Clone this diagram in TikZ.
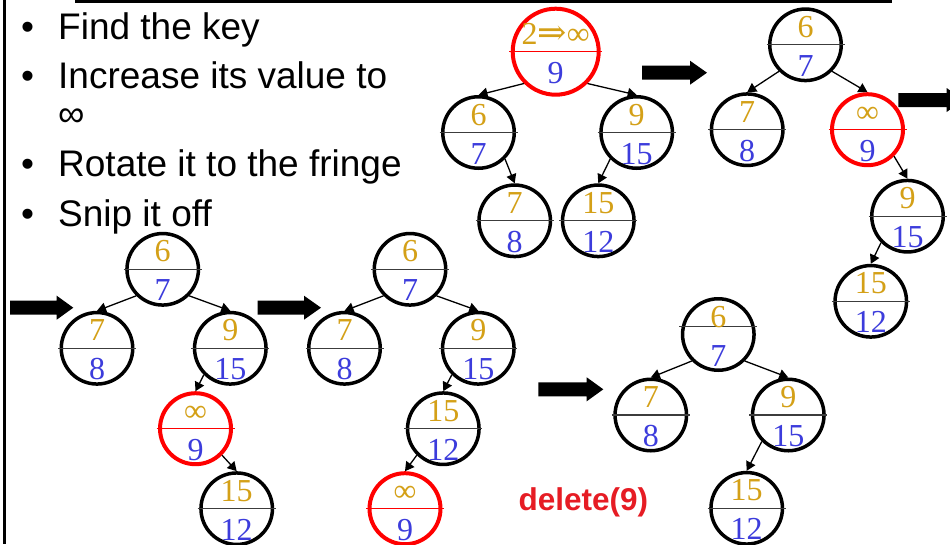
\documentclass[tikz,border=0pt]{standalone}
\usepackage{fontspec}
\setmainfont{Liberation Serif}
\newfontfamily\arialfont{Liberation Sans}
\newfontfamily\arrowfont{DejaVu Serif}
\usetikzlibrary{arrows.meta}

\definecolor{keygold}{RGB}{212,160,23}
\definecolor{prioblue}{RGB}{60,60,220}
\definecolor{hotred}{RGB}{255,0,0}
\definecolor{labelred}{RGB}{230,28,36}
\definecolor{rulegray}{RGB}{60,60,60}

\tikzset{
  ring/.style={circle, draw=black, line width=3.5pt, minimum size=71.5pt, inner sep=0pt},
  hotring/.style={circle, draw=hotred, line width=4pt, minimum size=71pt, inner sep=0pt},
  bigring/.style={hotring, minimum size=86pt},
  ring rule/.style={draw=rulegray, line width=1.2pt},
  hotring rule/.style={draw=hotred, line width=1.2pt},
  bigring rule/.style={hotring rule},
  keytext/.style={anchor=base, inner sep=0pt, text=keygold, font=\fontsize{32}{32}\selectfont},
  priotext/.style={anchor=base, inner sep=0pt, text=prioblue, font=\fontsize{32}{32}\selectfont},
  link/.style={draw=black, line width=1.3pt, -{Triangle[length=9pt,width=10pt]}},
  bullettext/.style={anchor=base west, inner sep=0pt, font=\arialfont\fontsize{37}{37}\selectfont},
  bulletdot/.style={anchor=base, inner sep=0pt, font=\arialfont\fontsize{37}{37}\selectfont},
  caption/.style={anchor=base west, inner sep=0pt, text=labelred, font=\arialfont\bfseries\fontsize{31.5}{31.5}\selectfont},
  move/.style={fill=black},
  frame/.style={draw=black},
}

% #1 name, #2 x, #3 y, #4 key, #5 priority, #6 ring style, #7 divider raise (pt)
\newcommand\keynode[7]{%
  \node[#6] (#1) at (#2,#3) {};
  \draw[#6 rule] ([xshift=-1.5pt,yshift=#7pt]#1.west) -- ([xshift=1.5pt,yshift=#7pt]#1.east);
  \node[keytext] (#1-key) at ([yshift=7.5pt]#1.center) {#4};
  \node[priotext] (#1-prio) at ([yshift=-31.5pt]#1.center) {#5};
}

% block arrow: tail x, head start x, tip x, centre y
\newcommand\movearrow[4]{%
  \fill[move] (#1,#4-7) -- (#2,#4-7) -- (#2,#4-12) -- (#3,#4)
    -- (#2,#4+12) -- (#2,#4+7) -- (#1,#4+7) -- cycle;
}

\begin{document}
\begin{tikzpicture}[x=1pt, y=-1pt]
  \useasboundingbox (0,0) rectangle (950,544);
  \clip (0,0) rectangle (950,544);
  \fill[white] (0,0) rectangle (950,544);

  % slide frame
  \draw[frame, line width=3.3pt] (75,1.65) -- (892,1.65);
  \draw[frame, line width=2.7pt] (4.7,0) -- (4.7,544);

  % bullet list
  \node[bulletdot] (d1) at (27.5,39.3) {•};
  \node[bullettext] (t1) at (58,39.3) {Find the key};
  \node[bulletdot] (d2) at (27.5,88.3) {•};
  \node[bullettext] (t2) at (58,88.3) {Increase its value to};
  \node[bullettext] (t2b) at (58,126.7) {∞};
  \node[bulletdot] (d3) at (27.5,176.7) {•};
  \node[bullettext] (t3) at (58,176.7) {Rotate it to the fringe};
  \node[bulletdot] (d4) at (27.5,226.7) {•};
  \node[bullettext] (t4) at (58,226.7) {Snip it off};

  % step 1: raise the key
  \keynode{a0}{555.7}{51.7}{2{\arrowfont\fontsize{35}{35}\selectfont ⇒}∞}{9}{bigring}{0}
  \keynode{a1}{478.5}{132.5}{6}{7}{ring}{0}
  \keynode{a2}{636.7}{132.5}{9}{15}{ring}{0}
  \keynode{a3}{514.7}{220.8}{7}{8}{ring}{0}
  \keynode{a4}{598.3}{220.8}{15}{12}{ring}{0}
  \draw[link] (a0.-135) -- (a1.north);
  \draw[link] (a0.-45) -- (a2.north);
  \draw[link] (a1.-45) -- (a3.north);
  \draw[link] (a2.-135) -- (a4.north);

  % step 2
  \keynode{b0}{805.5}{44.8}{6}{7}{ring}{0}
  \keynode{b1}{747.2}{129.7}{7}{8}{ring}{0}
  \keynode{b2}{867.5}{129.7}{∞}{9}{hotring}{0}
  \keynode{b3}{907.5}{216.2}{9}{15}{ring}{0}
  \keynode{b4}{870.8}{301.3}{15}{12}{ring}{0}
  \draw[link] (b0.-135) -- (b1.north);
  \draw[link] (b0.-45) -- (b2.north);
  \draw[link] (b2.-45) -- (b3.north);
  \draw[link] (b3.-135) -- (b4.north);

  % step 3
  \keynode{c0}{162.7}{269.3}{6}{7}{ring}{0}
  \keynode{c1}{97}{348.3}{7}{8}{ring}{0}
  \keynode{c2}{230.3}{348.3}{9}{15}{ring}{0}
  \keynode{c3}{195.5}{428.7}{∞}{9}{hotring}{0}
  \keynode{c4}{236.7}{508.7}{15}{12}{ring}{0}
  \draw[link] (c0.-135) -- (c1.north);
  \draw[link] (c0.-45) -- (c2.north);
  \draw[link] (c2.-135) -- (c3.north);
  \draw[link] (c3.-45) -- (c4.north);

  % step 4
  \keynode{d0}{410}{269.3}{6}{7}{ring}{0}
  \keynode{d1}{344.5}{348.3}{7}{8}{ring}{0}
  \keynode{d2}{478.3}{348.3}{9}{15}{ring}{0}
  \keynode{d3}{443.3}{428.7}{15}{12}{ring}{0}
  \keynode{d4}{405}{508.7}{∞}{9}{hotring}{0}
  \draw[link] (d0.-135) -- (d1.north);
  \draw[link] (d0.-45) -- (d2.north);
  \draw[link] (d2.-135) -- (d3.north);
  \draw[link] (d3.-135) -- (d4.north);

  % step 5: leaf removed
  \keynode{e0}{718.3}{334.5}{6}{7}{ring}{7.8}
  \keynode{e1}{650.8}{415}{7}{8}{ring}{0}
  \keynode{e2}{788.3}{415}{9}{15}{ring}{0}
  \keynode{e3}{746.7}{508.3}{15}{12}{ring}{0}
  \draw[link] (e0.-135) -- (e1.north);
  \draw[link] (e0.-45) -- (e2.north);
  \draw[link] (e2.-135) -- (e3.north);

  % progression arrows
  \movearrow{642}{690}{707}{72.7}
  \movearrow{898.3}{946.7}{963}{100}
  \movearrow{10}{56.7}{73.3}{307.7}
  \movearrow{257.7}{304}{321}{307.7}
  \movearrow{538.3}{586.7}{603.3}{389.3}

  \node[caption] (op) at (518.3,510) {delete(9)};
\end{tikzpicture}
\end{document}
